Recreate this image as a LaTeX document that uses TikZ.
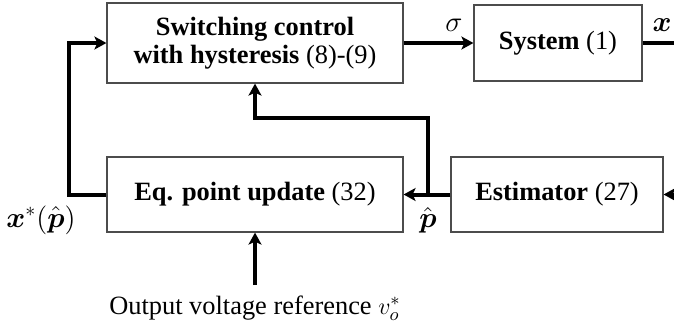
\documentclass[tikz,border=0pt]{standalone}
\usepackage{amsmath}
\usepackage{fontspec}
\setmainfont{Liberation Serif}
\usetikzlibrary{arrows.meta}
\begin{document}
\begin{tikzpicture}[x=0.5pt,y=-0.5pt,
  every node/.style={font=\fontsize{13.2}{14}\selectfont},
  mlab/.style={font=\fontsize{14.2}{15}\selectfont,inner sep=1pt},
  blk/.style={draw=black!70,line width=0.6pt,inner sep=0pt,align=center},
  arr/.style={line width=2pt,-{Stealth[length=6pt,width=6.5pt,inset=1.5pt]}},
  wire/.style={line width=2pt}]
\useasboundingbox (0,0) rectangle (674,328);
\node[blk,minimum width=148pt,minimum height=40pt] (sw) at (255,43) {\textbf{Switching control}\\\textbf{with hysteresis} (8)-(9)};
\node[blk,minimum width=84pt,minimum height=38pt] (sys) at (558,43) {\textbf{System} (1)};
\node[blk,minimum width=148pt,minimum height=37.5pt] (eq) at (255,194.5) {\textbf{Eq. point update} (32)};
\node[blk,minimum width=106pt,minimum height=37.5pt] (est) at (557,194.5) {\textbf{Estimator} (27)};
\coordinate (xr) at (674,43);
\coordinate (er) at (674,194.5);
\coordinate (br) at (428,194.5);
\coordinate (mid) at (428,118);
\coordinate (ref) at (255,285);
\draw[arr] (sw.east) -- (sys.west);
\draw[wire] (sys.east) -- (xr);
\draw[arr] (er) -- (est.east);
\draw[arr] (est.west) -- (eq.east);
\draw[arr] (br) -- (mid) -| (sw.south);
\draw[arr] (eq.west) -- ++(-37,0) |- (sw.west);
\draw[arr] (ref) -- (eq.south);
\node[mlab] (sig) at (454,25) {$\sigma$};
\node[mlab] (xl) at (662,25) {$\boldsymbol{x}$};
\node[mlab] (ph) at (428,220) {$\hat{\boldsymbol{p}}$};
\node[mlab] (xs) at (41,220) {$\boldsymbol{x}^*(\hat{\boldsymbol{p}})$};
\node (rl) at (255,308) {Output voltage reference $v_o^*$};
\end{tikzpicture}
\end{document}
